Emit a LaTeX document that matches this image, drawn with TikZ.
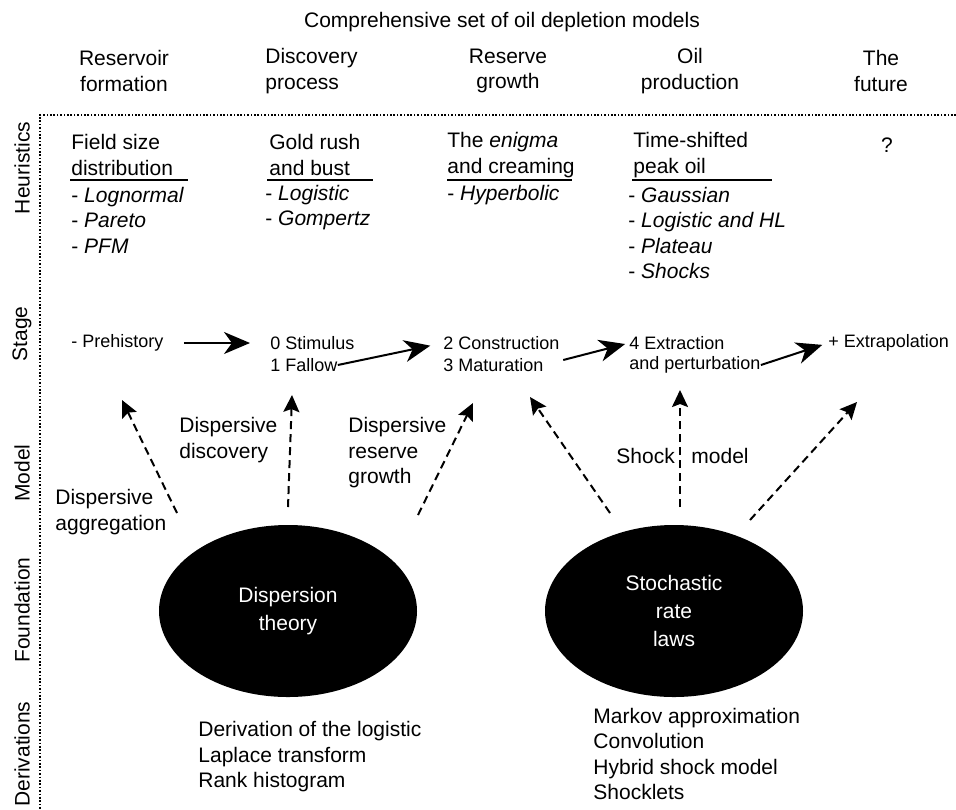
\documentclass[tikz,border=0pt]{standalone}
\usepackage{fontspec}
\setmainfont{Liberation Sans}
\usetikzlibrary{positioning, calc, arrows.meta, shapes.geometric}

\begin{document}
\begin{tikzpicture}[x = 0.5pt, y = -0.5pt,
  txt/.style = {inner sep = 0pt, font = \fontsize{10.5}{12.75}\selectfont},
  lft/.style = {txt, anchor = west, align = left},
  stg/.style = {inner sep = 0pt, anchor = west, font = \fontsize{9}{11}\selectfont},
  row/.style = {txt, rotate = 90},
  blob/.style = {ellipse, fill = black, text = white, inner sep = 1pt,
    minimum width = 129pt, minimum height = 86pt, align = center,
    font = \fontsize{10.5}{14}\selectfont},
  flow/.style = {line width = 1pt, -{Stealth[length = 13pt, width = 11pt, inset = 4pt]}},
  feed/.style = {line width = 1pt, dash pattern = on 4pt off 2.5pt,
    -{Stealth[length = 8.5pt, width = 8pt, inset = 1.5pt]}},
  rule/.style = {line width = 1pt}]

\useasboundingbox (0,0) rectangle (956,809);

% title and columns
\node[txt] (T) at (502,22) {Comprehensive set of oil depletion models};
\node[txt, align = center] (C1) at (124,71) {Reservoir\\formation};
\node[lft] (C2) at (265,71) {Discovery\\process};
\node[txt, align = center] (C3) at (508,71) {Reserve\\growth};
\node[txt, align = center] (C4) at (690,71) {Oil\\production};
\node[txt, align = center] (C5) at (881,71) {The\\future};

\draw[line width = 0.9pt, dash pattern = on 0.8pt off 0.9pt] (956,115) -- (40,115) -- (40,809);

% rows
\node[row] (R1) at (22,168) {Heuristics};
\node[row] (R2) at (22,334) {Stage};
\node[row] (R3) at (22,473) {Model};
\node[row] (R4) at (22,610) {Foundation};
\node[row] (R5) at (22,754) {Derivations};

% heuristics
\node[lft] (H1) at (71,155) {Field size\\distribution};
\node[lft] (H2) at (269,155) {Gold rush\\and bust};
\node[lft] (H3) at (447,155) {The \textit{enigma}\\and creaming};
\node[lft] (H4) at (633,155) {Time-shifted\\peak oil};
\node[txt] (H5) at (887,145) {?};
\draw[rule] (70,180) -- (188,180);
\draw[rule] (267,180) -- (373,180);
\draw[rule] (447,180) -- (572,180);
\draw[rule] (632,180) -- (772,180);
\node[lft] (L1) at (71,220) {- \textit{Lognormal}\\- \textit{Pareto}\\- \textit{PFM}};
\node[lft] (L2) at (265,207.5) {- \textit{Logistic}\\- \textit{Gompertz}};
\node[lft] (L3) at (447,195) {- \textit{Hyperbolic}};
\node[lft] (L4) at (628,233) {- \textit{Gaussian}\\- \textit{Logistic and HL}\\- \textit{Plateau}\\- \textit{Shocks}};

% stages
\node[stg] (P0) at (71,343) {- Prehistory};
\node[stg] (S1) at (270,343) {0 Stimulus};
\node[stg] (S2) at (270,365) {1 Fallow};
\node[stg] (S3) at (443,343) {2 Construction};
\node[stg] (S4) at (443,365) {3 Maturation};
\node[stg] (S5) at (629,343) {4 Extraction};
\node[stg] (S6) at (629,365) {and perturbation};
\node[stg] (S7) at (828,343) {+ Extrapolation};

\draw[flow, shorten <= 10pt, shorten >= 10pt] (P0.east) -- (P0.east -| S1.west);
\draw[flow, shorten >= 6.5pt] (S2.east) -- (S3.west);
\draw[flow, shorten <= 10pt, shorten >= 2pt] (S4.east) -- (S5.west);
\draw[flow, shorten >= 3pt] (S6.east) -- (S7.west);

% foundations
\node[blob] (E1) at (288,611) {Dispersion\\theory};
\node[blob] (E2) at (674,611) {Stochastic\\rate\\laws};

% models
\coordinate (t1) at (177,513); \coordinate (h1) at (122,400);
\coordinate (t2) at (288,507); \coordinate (h2) at (292,395);
\coordinate (t3) at (418,515); \coordinate (h3) at (473,403);
\coordinate (t4) at (610,513); \coordinate (h4) at (530,397);
\coordinate (t5) at (680,507); \coordinate (h5) at (680,390);
\coordinate (t6) at (750,520); \coordinate (h6) at (857,402);
\draw[feed] (t1) -- (h1);
\draw[feed] (t2) -- (h2);
\draw[feed] (t3) -- (h3);
\draw[feed] (t4) -- (h4);
\draw[feed] (t5) -- (h5);
\draw[feed] (t6) -- (h6);

\node[lft] (M1) at (55,512) {Dispersive\\aggregation};
\node[lft] (M2) at (179,440) {Dispersive\\discovery};
\node[lft] (M3) at (348,453) {Dispersive\\reserve\\growth};
\node[lft] (M4) at (616,456) {Shock};
\node[lft] (M5) at (691,456) {model};

% derivations
\node[lft] (D1) at (198,757) {Derivation of the logistic\\Laplace transform\\Rank histogram};
\node[lft] (D2) at (593,754) {Markov approximation\\Convolution\\Hybrid shock model\\Shocklets};
\end{tikzpicture}
\end{document}
